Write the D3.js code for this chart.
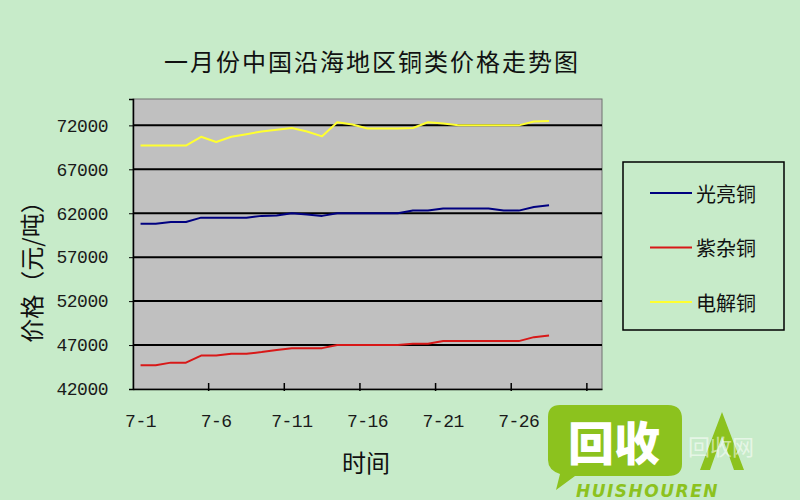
<!DOCTYPE html>
<html><head><meta charset="utf-8">
<script src="https://cdn.jsdelivr.net/npm/d3@7"></script>
<style>html,body{margin:0;padding:0;background:#c7ebc9;} svg{display:block}</style>
</head><body>
<svg id="c" width="800" height="500"></svg>
<script>
const title = "一月份中国沿海地区铜类价格走势图";
const yTitle = "价格（元/吨）";
const xTitle = "时间";
const categories = ["7-1","7-2","7-3","7-4","7-5","7-6","7-7","7-8","7-9","7-10",
  "7-11","7-12","7-13","7-14","7-15","7-16","7-17","7-18","7-19","7-20",
  "7-21","7-22","7-23","7-24","7-25","7-26","7-27","7-28","7-29","7-30","7-31"];
const tickLabels = ["7-1","7-6","7-11","7-16","7-21","7-26"];
const yTicks = [42000,47000,52000,57000,62000,67000,72000];
const seriesNames = ["光亮铜","紫杂铜","电解铜"];
const brightCopper = [60800,60800,61000,61000,61500,61500,61500,61500,61700,61750,
  62000,61850,61700,62000,62000,62000,62000,62000,62300,62300,
  62550,62550,62550,62550,62300,62300,62700,62900];
const scrapCopper = [44700,44700,45000,45000,45800,45800,46000,46000,46200,46450,
  46650,46650,46650,47000,47000,47000,47000,47000,47150,47150,
  47450,47450,47450,47450,47450,47450,47900,48100];
const cathodeCopper = [69700,69700,69700,69700,70700,70100,70700,71000,71300,71500,
  71700,71300,70750,72350,72100,71650,71650,71650,71700,72350,
  72200,72000,72000,72000,72000,72000,72450,72500];
const seriesColors = ["#000080","#d81818","#ffff30"];
const yDomain = [42000, 75000];

const svg = d3.select("#c");
const L = 133, R = 602, T = 99, B = 389;

svg.append("rect").attr("width",800).attr("height",500).attr("fill","#c7ebc9");

const x = d3.scaleBand().domain(categories).range([L, R]).padding(0);
const y = d3.scaleLinear().domain(yDomain).range([B, T]);

// plot area
svg.append("rect").attr("x",L).attr("y",T).attr("width",R-L).attr("height",B-T)
  .attr("fill","#c0c0c0").attr("stroke","#707070").attr("stroke-width",1);

// gridlines
svg.append("g").selectAll("line").data(yTicks.filter(v=>v>yDomain[0]))
  .join("line").attr("x1",L).attr("x2",R).attr("y1",d=>y(d)).attr("y2",d=>y(d))
  .attr("stroke","#000").attr("stroke-width",2);

// y axis
const yAxis = d3.axisLeft(y).tickValues(yTicks).tickSize(4).tickPadding(21).tickFormat(d=>String(d));
const gy = svg.append("g").attr("transform",`translate(${L},0)`).call(yAxis);
gy.select(".domain").attr("stroke","#000").attr("stroke-width",1.5);
gy.selectAll(".tick line").attr("stroke","#000");
gy.selectAll("text").attr("font-family","'Liberation Mono', monospace").attr("font-size",18)
  .attr("fill","#1a1a1a").attr("letter-spacing",-0.5);

// x axis
const xAxis = d3.axisBottom(x).tickValues(tickLabels).tickSize(0).tickPadding(25);
const gx = svg.append("g").attr("transform",`translate(0,${B})`).call(xAxis);
gx.select(".domain").attr("stroke","#000").attr("stroke-width",1.5);
gx.selectAll("text").attr("font-family","'Liberation Mono', monospace").attr("font-size",18)
  .attr("fill","#1a1a1a").attr("letter-spacing",-0.5);
// tick marks between categories every 5
const tickCats = categories.filter((c,i)=>i>0 && i%5===0);
svg.append("g").selectAll("line").data(tickCats).join("line")
  .attr("x1",d=>x(d)).attr("x2",d=>x(d)).attr("y1",B-6).attr("y2",B+2)
  .attr("stroke","#000").attr("stroke-width",1.5);

// lines
const allSeries = [brightCopper, scrapCopper, cathodeCopper];
const line = d3.line().x((d,i)=>x(categories[i]) + x.bandwidth()/2).y(d=>y(d));
svg.append("g").selectAll("path").data(allSeries).join("path")
  .attr("d", line).attr("fill","none")
  .attr("stroke",(d,i)=>seriesColors[i]).attr("stroke-width",2)
  .attr("stroke-linejoin","round");

// title
svg.append("text").attr("x",372).attr("y",60).attr("text-anchor","middle")
  .attr("dominant-baseline","central")
  .attr("font-family","'Noto Sans CJK SC', sans-serif").attr("font-size",24)
  .attr("letter-spacing",2).attr("fill","#111").text(title);

// y title
svg.append("text").attr("transform","translate(30,266) rotate(-90)")
  .attr("text-anchor","middle").attr("dominant-baseline","central")
  .attr("font-family","'Noto Sans CJK SC', sans-serif").attr("font-size",24)
  .attr("fill","#111").text(yTitle);

// x title
svg.append("text").attr("x",366).attr("y",461).attr("text-anchor","middle")
  .attr("dominant-baseline","central")
  .attr("font-family","'Noto Sans CJK SC', sans-serif").attr("font-size",24)
  .attr("fill","#111").text(xTitle);

// legend
const lg = svg.append("g");
lg.append("rect").attr("x",623).attr("y",162).attr("width",161).attr("height",168)
  .attr("fill","none").attr("stroke","#000").attr("stroke-width",1.5);
const legY = d3.scalePoint().domain(seriesNames).range([193, 302]);
const items = lg.selectAll("g").data(seriesNames).join("g")
  .attr("transform",d=>`translate(0,${legY(d)})`);
items.append("line").attr("x1",650).attr("x2",692).attr("y1",0).attr("y2",0)
  .attr("stroke",(d,i)=>seriesColors[i]).attr("stroke-width",2);
items.append("text").attr("x",696).attr("y",0).attr("dominant-baseline","central")
  .attr("font-family","'Noto Sans CJK SC', sans-serif").attr("font-size",20)
  .attr("fill","#111").text(d=>d);

// watermark (logo overlay from the source image)
const wm = svg.append("g");
wm.append("path").attr("d","M560,405 H668 Q682,405 682,419 V464 Q682,476 668,476 H575 L556,490 L560,474 Q548,470 548,460 V417 Q548,405 560,405 Z")
  .attr("fill","#8cc21e");
wm.append("text").attr("x",614).attr("y",440).attr("text-anchor","middle")
  .attr("dominant-baseline","central").attr("font-family","'Noto Sans CJK SC', sans-serif")
  .attr("font-weight",900).attr("font-size",46).attr("fill","#fff").text("回收");
wm.append("path").attr("d","M700,470 L722,412 L744,470 L734,470 L722,436 L710,470 Z")
  .attr("fill","#8cc21e");
wm.append("text").attr("x",688).attr("y",455).attr("font-family","'Noto Sans CJK SC', sans-serif")
  .attr("font-size",22).attr("fill","#ffffff").attr("opacity",0.55).text("回收网");
wm.append("text").attr("x",576).attr("y",497).attr("font-family","'DejaVu Sans', sans-serif")
  .attr("font-weight","bold").attr("font-style","italic").attr("font-size",17)
  .attr("fill","#8cc21e").attr("letter-spacing",1.5).text("HUISHOUREN");
</script>
</body></html>
